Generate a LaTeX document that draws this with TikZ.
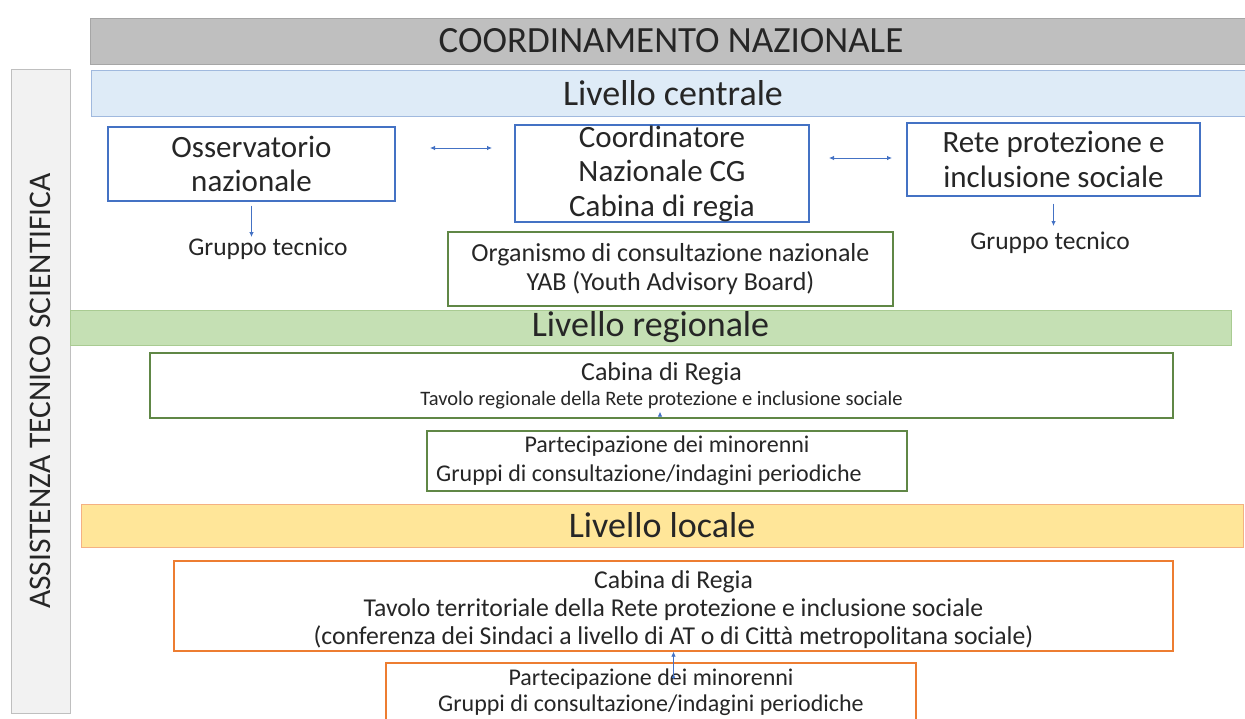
\documentclass[tikz,border=0pt]{standalone}
\usepackage{fontspec}
\setmainfont{Carlito}
\usetikzlibrary{arrows.meta, positioning}

\begin{document}
\begin{tikzpicture}[x=1pt, y=-1pt,
    txt/.style={text=textGray, align=center, inner sep=0pt},
    bar/.style={txt, line width=1pt, font=\fontsize{36}{40}\selectfont},
    bluebox/.style={txt, draw=boxBlue, line width=1.3pt, font=\fontsize{31}{34.5}\selectfont},
    greenbox/.style={txt, draw=boxGreen, line width=1.3pt},
    orangebox/.style={txt, draw=boxOrange, line width=1.3pt},
    lbl/.style={txt, inner sep=1pt, font=\fontsize{25.5}{28}\selectfont},
    arr/.style={draw=arrBlue, line width=0.8pt, -{Latex[length=5pt,width=4.5pt]}},
    darr/.style={arr, {Latex[length=5pt,width=4.5pt]}-{Latex[length=5pt,width=4.5pt]}}]
    % 定义颜色
    \definecolor{textGray}{RGB}{38,38,38}
    \definecolor{barGray}{RGB}{191,191,191}     % 灰色标题栏
    \definecolor{barGrayLine}{RGB}{166,166,166}
    \definecolor{paleBlue}{RGB}{222,235,247}    % 淡蓝
    \definecolor{paleBlueLine}{RGB}{160,185,222}
    \definecolor{paleGreen}{RGB}{197,224,180}   % 淡绿
    \definecolor{paleGreenLine}{RGB}{169,203,146}
    \definecolor{paleYellow}{RGB}{255,230,153}  % 淡黄
    \definecolor{paleYellowLine}{RGB}{244,177,131}
    \definecolor{sideGray}{RGB}{242,242,242}
    \definecolor{sideGrayLine}{RGB}{191,191,191}
    \definecolor{boxBlue}{RGB}{68,114,196}
    \definecolor{boxGreen}{RGB}{96,135,70}
    \definecolor{boxOrange}{RGB}{237,125,49}
    \definecolor{arrBlue}{RGB}{68,114,196}

    \useasboundingbox (0,0) rectangle (1245,718);

    % 左侧竖栏
    \node[txt, fill=sideGray, draw=sideGrayLine, line width=1pt, rotate=90,
          minimum width=644pt, minimum height=59pt,
          font=\fontsize{31.5}{34}\selectfont] (ats) at (40.5,391) {ASSISTENZA TECNICO SCIENTIFICA};

    % 标题栏与三个层级
    \node[bar, fill=barGray, draw=barGrayLine, minimum width=1162pt, minimum height=46pt,
          font=\fontsize{37}{40}\selectfont] (coordnaz) at (671,41) {COORDINAMENTO NAZIONALE};
    \node[bar, fill=paleBlue, draw=paleBlueLine, minimum width=1164pt, minimum height=46pt] (centrale) at (673,93) {Livello centrale};
    \node[bar, fill=paleGreen, draw=paleGreenLine, minimum width=1161pt, minimum height=35pt] (regionale) at (650.5,327.5) {Livello regionale};
    \node[bar, fill=paleYellow, draw=paleYellowLine, minimum width=1162pt, minimum height=43pt] (locale) at (662,525.5) {Livello locale};

    % 中央层
    \node[bluebox, minimum width=287pt, minimum height=74pt] (oss) at (251.5,164) {Osservatorio\\nazionale};
    \node[bluebox, minimum width=294pt, minimum height=97pt] (cg) at (662,173.5) {Coordinatore\\Nazionale CG\\Cabina di regia};
    \node[bluebox, minimum width=293pt, minimum height=73pt] (rete) at (1053.5,159.5) {Rete protezione e\\inclusione sociale};
    \node[lbl, anchor=north] (gt1) at (268,237) {Gruppo tecnico};
    \node[lbl, anchor=north] (gt2) at (1050,231) {Gruppo tecnico};
    \node[greenbox, minimum width=445pt, minimum height=74pt, font=\fontsize{26}{29}\selectfont] (yab) at (670.5,269)
        {Organismo di consultazione nazionale\\YAB (Youth Advisory Board)};

    \coordinate (a1l) at (430,148);
    \coordinate (a1r) at (492,148);
    \coordinate (a2l) at (829,158);
    \coordinate (a2r) at (892,158);
    \draw[darr] (a1l) -- (a1r);
    \draw[darr] (a2l) -- (a2r);
    \draw[arr] ([yshift=-4pt]oss.south) -- (oss.south |- gt1.north);
    \draw[arr, shorten >=5pt] ([yshift=-7pt]rete.south) -- (rete.south |- gt2.north);

    % 区域层
    \node[greenbox, minimum width=1023pt, minimum height=65pt] (regcab) at (661.5,385.5)
        {{\fontsize{26}{25}\selectfont Cabina di Regia}\\[5pt]
         {\fontsize{20.5}{25}\selectfont Tavolo regionale della Rete protezione e inclusione sociale}};
    \node[greenbox, minimum width=480pt, minimum height=60pt, font=\fontsize{24}{29}\selectfont] (regpart) at (667,461)
        {Partecipazione dei minorenni\\Gruppi di consultazione/indagini periodiche\hspace*{36pt}};
    \draw[arr] ([xshift=-1.5pt,yshift=5pt]regcab.south) -- ([xshift=-1.5pt,yshift=7pt]regcab.south);

    % 地方层
    \node[orangebox, minimum width=999pt, minimum height=90pt, font=\fontsize{25.7}{28}\selectfont] (loccab) at (673.5,606)
        {\rule{0pt}{25pt}Cabina di Regia\\Tavolo territoriale della Rete protezione e inclusione sociale\\(conferenza dei Sindaci a livello di AT o di Città metropolitana sociale)};
    \node[orangebox, minimum width=530pt, minimum height=58pt, font=\fontsize{24}{26}\selectfont] (locpart) at (651,692)
        {Partecipazione dei minorenni\\Gruppi di consultazione/indagini periodiche};
    \draw[arr, {Circle[length=3pt]}-{Latex[length=5pt,width=4.5pt]}] ([yshift=-27pt]loccab.south) -- (loccab.south);
\end{tikzpicture}
\end{document}
